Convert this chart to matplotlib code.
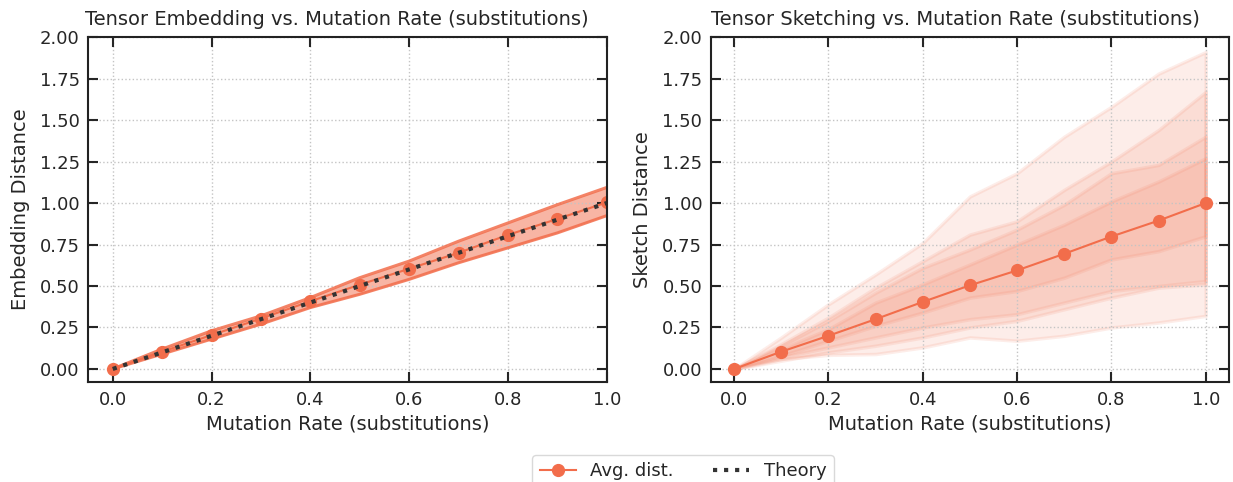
import matplotlib
matplotlib.use("Agg")
import matplotlib.pyplot as plt
import numpy as np

# mutation rates
rates = [0.0, 0.1, 0.2, 0.3, 0.4, 0.5, 0.6, 0.7, 0.8, 0.9, 1.0]

# left panel: tensor embedding
emb_mean = [0.0, 0.104, 0.204, 0.304, 0.408, 0.508, 0.604, 0.70, 0.808, 0.904, 1.004]
emb_low = [0.0, 0.09, 0.18, 0.27, 0.37, 0.45, 0.54, 0.64, 0.73, 0.82, 0.924]
emb_high = [0.0, 0.12, 0.23, 0.32, 0.43, 0.55, 0.65, 0.77, 0.88, 0.99, 1.094]
theory = [0.0, 0.1, 0.2, 0.3, 0.4, 0.5, 0.6, 0.7, 0.8, 0.9, 1.0]

# right panel: tensor sketching, nested quantile bands (outer -> inner)
sk_mean = [0.0, 0.104, 0.2, 0.3, 0.404, 0.504, 0.594, 0.694, 0.798, 0.894, 1.0]
sk_low = [
    [0.0, 0.06, 0.085, 0.09, 0.13, 0.19, 0.17, 0.20, 0.25, 0.28, 0.32],
    [0.0, 0.05, 0.10, 0.14, 0.19, 0.25, 0.29, 0.36, 0.43, 0.49, 0.51],
    [0.0, 0.07, 0.13, 0.19, 0.25, 0.30, 0.33, 0.40, 0.47, 0.50, 0.53],
    [0.0, 0.08, 0.17, 0.26, 0.34, 0.43, 0.47, 0.55, 0.66, 0.71, 0.80],
]
sk_high = [
    [0.0, 0.19, 0.39, 0.57, 0.76, 1.04, 1.18, 1.40, 1.58, 1.78, 1.91],
    [0.0, 0.15, 0.31, 0.49, 0.65, 0.81, 0.89, 1.08, 1.25, 1.44, 1.67],
    [0.0, 0.14, 0.29, 0.46, 0.61, 0.72, 0.84, 0.99, 1.18, 1.23, 1.40],
    [0.0, 0.12, 0.24, 0.40, 0.51, 0.63, 0.75, 0.87, 1.01, 1.13, 1.27],
]

ORANGE = "#F26D4B"
TEXT = "#262626"

plt.rcParams["font.family"] = ["DejaVu Sans"]
plt.rcParams["font.size"] = 13
plt.rcParams["text.color"] = TEXT
plt.rcParams["axes.labelcolor"] = TEXT
plt.rcParams["xtick.color"] = TEXT
plt.rcParams["ytick.color"] = TEXT

fig, (ax1, ax2) = plt.subplots(1, 2, figsize=(12.33, 4.82), dpi=100)
fig.subplots_adjust(left=0.0714, right=0.9970, top=0.923, bottom=0.207, wspace=0.2)

yticks = np.arange(0, 2.01, 0.25)

# left
ax1.fill_between(rates, emb_low, emb_high, color=ORANGE, alpha=0.5, lw=0)
ax1.plot(rates, emb_low, color=ORANGE, lw=2.2, alpha=0.85)
ax1.plot(rates, emb_high, color=ORANGE, lw=2.2, alpha=0.85)
l1, = ax1.plot(rates, emb_mean, color=ORANGE, marker="o", ms=8.5, lw=1.5, label="Avg. dist.")
l2, = ax1.plot(rates, theory, color="#333333", ls=":", lw=3, label="Theory")
ax1.set_xlim(-0.05, 1.0)
ax1.set_ylabel("Embedding Distance", fontsize=14, labelpad=7)
ax1.set_title("Tensor Embedding vs. Mutation Rate (substitutions)", loc="left",
              fontsize=14, pad=9, x=-0.005)

# right
for lo, hi in zip(sk_low, sk_high):
    ax2.fill_between(rates, lo, hi, color=ORANGE, alpha=0.12, lw=2.5)
ax2.plot(rates, sk_mean, color=ORANGE, marker="o", ms=8.5, lw=1.5)
ax2.set_xlim(-0.05, 1.05)
ax2.set_ylabel("Sketch Distance", fontsize=14, labelpad=7)
ax2.set_title("Tensor Sketching vs. Mutation Rate (substitutions)", loc="left",
              fontsize=14, pad=9)

for ax in (ax1, ax2):
    ax.set_ylim(-0.08, 2.0)
    ax.set_yticks(yticks)
    ax.set_xticks(np.arange(0, 1.01, 0.2))
    ax.set_xlabel("Mutation Rate (substitutions)", fontsize=14)
    ax.grid(True, ls=":", color="#c4c4c4", lw=1)
    ax.tick_params(direction="in", top=True, right=True, length=7, width=1.5,
                   labelsize=13, pad=6)
    for s in ax.spines.values():
        s.set_linewidth(1.5)
        s.set_color("#222222")

fig.legend(handles=[l1, l2], loc="lower center", ncol=2, bbox_to_anchor=(0.554, -0.03),
           frameon=True, fontsize=13, handlelength=2.0, columnspacing=2.2,
           edgecolor="#d0d0d0")

fig.savefig("out.png", dpi=100)
